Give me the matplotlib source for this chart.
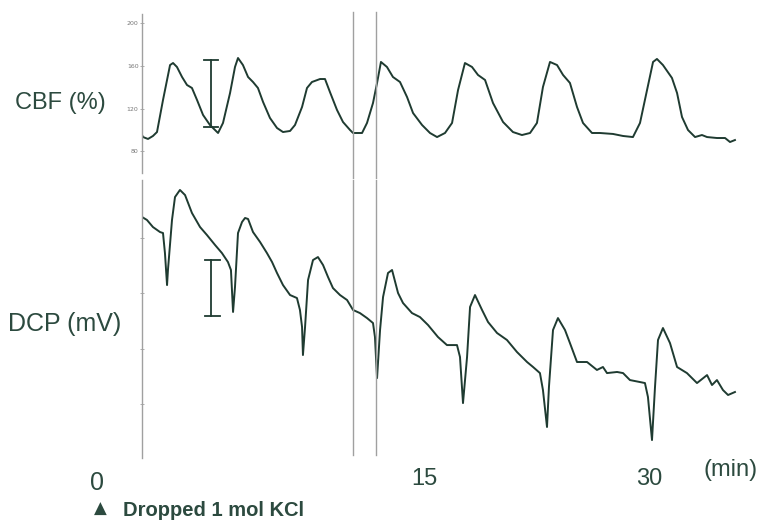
import matplotlib
matplotlib.use("Agg")
import matplotlib.pyplot as plt

# CBF trace (time in min, CBF in %)
cbf_t = [-3.8, -3.73, -3.4, -3.07, -2.8, -2.4, -1.93, -1.73, -1.47, -1.13, -0.8, -0.47, -0.13,
         0.27, 0.73, 1.27, 1.6, 2.07, 2.4, 2.6, 2.93, 3.27, 3.6, 3.93, 4.27, 4.73, 5.2, 5.6,
         6.07, 6.4, 6.87, 7.2, 7.53, 8.07, 8.4, 8.73, 9.2, 9.6, 10.07, 10.27, 10.87, 11.2,
         11.6, 11.87, 12.13, 12.53, 12.93, 13.4, 13.87, 14.27, 14.87, 15.4, 15.87, 16.4,
         16.87, 17.27, 17.73, 18.2, 18.6, 19.07, 19.6, 20.27, 20.93, 21.53, 22.07, 22.53,
         22.93, 23.4, 23.87, 24.27, 24.73, 25.2, 25.6, 26.2, 26.73, 27.6, 28.27, 28.93,
         29.4, 29.87, 30.27, 30.53, 30.93, 31.53, 31.87, 32.2, 32.6, 33.07, 33.53, 33.87,
         34.53, 35.07, 35.4, 35.73]
cbf_v = [95.3, 93.4, 91.6, 94.4, 98.1, 128.1, 160.9, 162.8, 159.1, 149.7, 142.2, 139.4, 128.1,
         114.1, 104.7, 97.2, 106.6, 134.7, 159.1, 167.5, 160.9, 149.7, 145.0, 139.4, 126.3,
         111.3, 101.9, 98.1, 99.1, 104.7, 121.6, 139.4, 145.0, 147.8, 147.8, 135.6, 118.8,
         107.5, 100.0, 97.2, 97.2, 106.6, 125.3, 144.1, 163.8, 159.1, 149.7, 145.0, 130.9,
         115.9, 104.7, 97.2, 93.4, 97.2, 106.6, 137.5, 162.8, 159.1, 151.6, 146.9, 125.3,
         107.5, 98.1, 95.3, 97.2, 106.6, 140.3, 163.8, 160.9, 151.6, 144.1, 121.6, 106.6,
         97.2, 97.2, 96.3, 94.4, 93.4, 106.6, 137.5, 163.8, 166.6, 160.9, 148.8, 134.7,
         112.2, 100.0, 93.4, 95.3, 93.4, 92.5, 92.5, 88.75, 90.6]

# DCP trace (time in min, potential in mV)
dcp_t = [-3.8, -3.47, -3.07, -2.6, -2.4, -2.27, -2.13, -2.07, -1.8, -1.6, -1.27, -0.93, -0.47,
         0.07, 0.53, 1.07, 1.53, 1.93, 2.13, 2.27, 2.4, 2.6, 2.87, 3.07, 3.27, 3.6, 4.07,
         4.53, 4.87, 5.2, 5.6, 6.07, 6.53, 6.73, 6.87, 6.93, 7.07, 7.27, 7.6, 7.93, 8.27,
         8.6, 8.93, 9.4, 9.87, 10.27, 10.73, 11.2, 11.6, 11.73, 11.87, 12.07, 12.27, 12.6,
         12.87, 13.27, 13.6, 14.2, 14.73, 15.27, 15.93, 16.53, 17.2, 17.4, 17.6, 17.87,
         18.07, 18.4, 18.87, 19.27, 19.87, 20.53, 21.2, 21.87, 22.27, 22.73, 22.93, 23.2,
         23.33, 23.6, 23.93, 24.4, 24.73, 25.2, 25.87, 26.53, 26.93, 27.2, 27.87, 28.27,
         28.73, 29.4, 29.73, 29.93, 30.2, 30.4, 30.6, 30.93, 31.4, 31.87, 32.53, 33.2,
         33.87, 34.2, 34.53, 34.93, 35.27, 35.73]
dcp_v = [1.90, 1.63, 0.99, 0.54, 0.45, -1.36, -4.25, -2.89, 1.63, 3.70, 4.34, 3.88, 2.26,
         0.99, 0.27, -0.63, -1.36, -2.17, -2.89, -6.68, -4.43, 0.45, 1.45, 1.81, 1.72, 0.54,
         -0.36, -1.36, -2.17, -3.16, -4.25, -5.15, -5.42, -6.50, -8.04, -10.57, -8.04, -3.79,
         -1.99, -1.72, -2.44, -3.52, -4.52, -5.15, -5.60, -6.50, -6.78, -7.23, -7.68, -8.94,
         -12.65, -8.31, -5.33, -3.16, -2.89, -4.97, -5.87, -6.78, -7.14, -7.86, -8.94, -9.67,
         -9.67, -10.75, -14.91, -10.75, -6.23, -5.15, -6.50, -7.59, -8.58, -9.21, -10.30,
         -11.20, -11.65, -12.20, -13.73, -17.07, -13.46, -8.31, -7.23, -8.31, -9.49, -11.20,
         -11.20, -11.92, -11.65, -12.20, -12.10, -12.20, -12.83, -13.01, -13.10, -14.36,
         -18.25, -13.46, -9.21, -8.13, -9.49, -11.65, -12.20, -13.10, -12.38, -13.28, -12.83,
         -13.73, -14.18, -13.91]

cbf_ticks = [80, 120, 160, 200]
dcp_ticks = [0, -5, -10, -15]
break_t = [10.27, 11.8]      # the two vertical lines (time break)
xlabels = ["0", "15", "30"]

trace_col = "#1f3b31"
text_col = "#2c4a3f"
grid_col = "#a0a0a0"

fig = plt.figure(figsize=(7.61, 5.2), dpi=100)
W, H = 761.0, 520.0

def fx(px):
    return px / W

def fy(py):
    return 1 - py / H

xl = (-3.8, 36.4)
left, width = fx(142), (745 - 142) / W

# top panel: CBF
ax1 = fig.add_axes([left, fy(173), width, (173 - 14) / H])
ax1.plot(cbf_t, cbf_v, color=trace_col, lw=1.4)
ax1.set_xlim(*xl)
ax1.set_ylim(59.7, 208.75)
for s in ["top", "right", "bottom"]:
    ax1.spines[s].set_visible(False)
ax1.spines["left"].set_color(grid_col)
ax1.spines["left"].set_linewidth(1.0)
ax1.set_xticks([])
ax1.set_yticks(cbf_ticks)
ax1.set_yticklabels([str(v) for v in cbf_ticks], fontsize=4.5, color="#777777")
ax1.tick_params(axis="y", direction="inout", length=3, width=0.6, color=grid_col, pad=1)
for bt in break_t:
    ax1.axvline(bt, ymin=-0.031, ymax=1.013, color=grid_col, lw=1.0, clip_on=False)
# scale bar
ax1.plot([0.8, 0.8], [102.8, 165.6], color=trace_col, lw=1.3)
ax1.plot([0.33, 1.27], [165.6, 165.6], color=trace_col, lw=1.3)
ax1.plot([0.33, 1.27], [102.8, 102.8], color=trace_col, lw=1.3)

# bottom panel: DCP
ax2 = fig.add_axes([left, fy(458), width, (458 - 180) / H])
ax2.plot(dcp_t, dcp_v, color=trace_col, lw=1.4)
ax2.set_xlim(*xl)
ax2.set_ylim(-19.87, 5.24)
for s in ["top", "right", "bottom"]:
    ax2.spines[s].set_visible(False)
ax2.spines["left"].set_color(grid_col)
ax2.spines["left"].set_linewidth(1.0)
ax2.set_xticks([])
ax2.set_yticks(dcp_ticks)
ax2.set_yticklabels([])
ax2.tick_params(axis="y", direction="inout", length=3, width=0.6, color=grid_col)
for bt in break_t:
    ax2.axvline(bt, ymin=0.011, ymax=1.0, color=grid_col, lw=1.0)
ax2.plot([0.8, 0.8], [-7.05, -1.99], color=trace_col, lw=1.3)
ax2.plot([0.4, 1.4], [-1.99, -1.99], color=trace_col, lw=1.3)
ax2.plot([0.4, 1.4], [-7.05, -7.05], color=trace_col, lw=1.3)

font = ["Liberation Sans", "DejaVu Sans"]
fig.text(fx(15), fy(103), "CBF (%)", fontsize=17, color=text_col, family=font, va="center", ha="left")
fig.text(fx(8), fy(324), "DCP (mV)", fontsize=18, color=text_col, family=font, va="center", ha="left")

fig.text(fx(97), fy(483), xlabels[0], fontsize=18, color=text_col, family=font, ha="center", va="center")
fig.text(fx(424), fy(479), xlabels[1], fontsize=17, color=text_col, family=font, ha="center", va="center")
fig.text(fx(649), fy(479), xlabels[2], fontsize=17, color=text_col, family=font, ha="center", va="center")
fig.text(fx(731), fy(470), "(min)", fontsize=17, color=text_col, family=font, ha="center", va="center")
fig.text(fx(100), fy(509), "\u25b2", fontsize=12, color=text_col, family=["DejaVu Sans"], ha="center", va="center")
fig.text(fx(123), fy(510), "Dropped 1 mol KCl", fontsize=14.5, color=text_col, family=font,
         weight="bold", ha="left", va="center")

fig.savefig("out.png", dpi=100, facecolor="white")
